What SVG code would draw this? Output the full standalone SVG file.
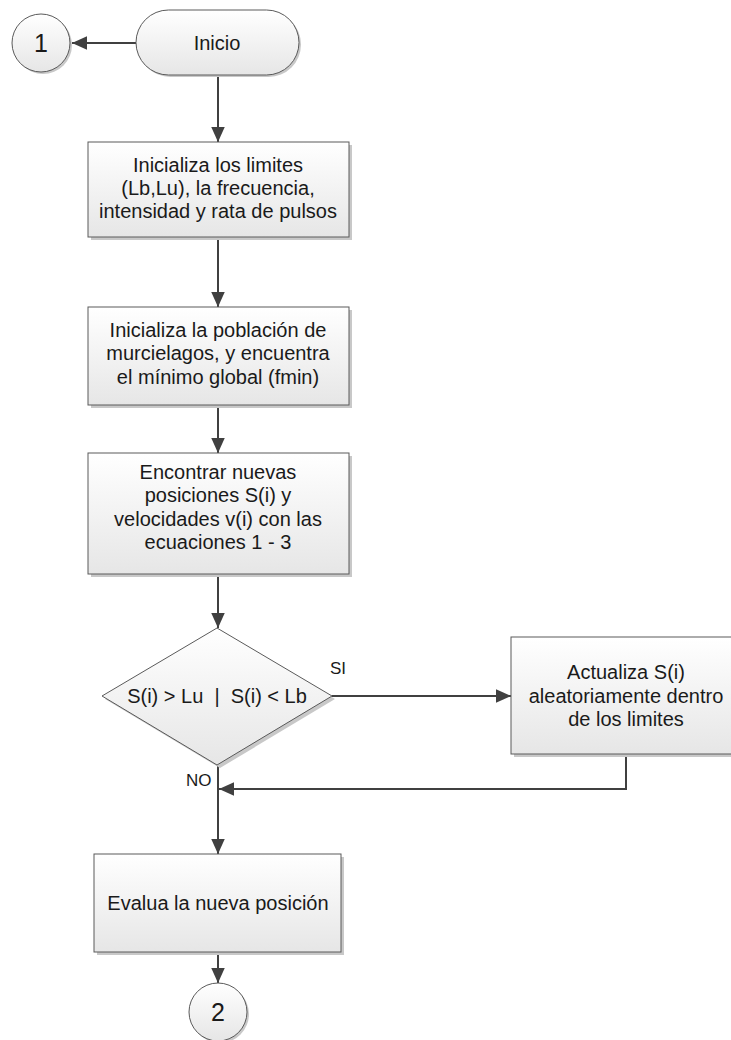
<svg xmlns="http://www.w3.org/2000/svg" width="731" height="1040" viewBox="0 0 731 1040">
<style>
.shape{fill:url(#g);stroke:#5a5a5a;stroke-width:1}
.shadow{fill:#c8c8c8;stroke:none}
.t{font-family:"Liberation Sans",Arial,sans-serif;font-size:20px;fill:#1a1a1a;text-anchor:middle}
.big{font-size:25px}
.conn{fill:none;stroke:#404040;stroke-width:2}
.lbl{font-family:"Liberation Sans",Arial,sans-serif;font-size:17px;fill:#1a1a1a}
</style>
<defs>
<linearGradient id="g" x1="0" y1="0" x2="0" y2="1">
<stop offset="0" stop-color="#ffffff"/>
<stop offset="1" stop-color="#e6e6e6"/>
</linearGradient>
<marker id="arb" viewBox="0 0 10 10" refX="10" refY="5" markerWidth="15" markerHeight="15" markerUnits="userSpaceOnUse" orient="auto">
<path d="M0,0.5 L10,5 L0,9.5 z" fill="#404040"/>
</marker>
</defs>

<g id="connectors">
<path class="conn" d="M136,43 L72,43" marker-end="url(#arb)"/>
<path class="conn" d="M218,75 L218,142" marker-end="url(#arb)"/>
<path class="conn" d="M218,237 L218,307" marker-end="url(#arb)"/>
<path class="conn" d="M218,405 L218,453" marker-end="url(#arb)"/>
<path class="conn" d="M218,574 L218,628" marker-end="url(#arb)"/>
<path class="conn" d="M332,696 L511,696" marker-end="url(#arb)"/>
<path class="conn" d="M626,754 L626,789 L219,789" marker-end="url(#arb)"/>
<path class="conn" d="M218,765 L218,854" marker-end="url(#arb)"/>
<path class="conn" d="M218,952 L218,983" marker-end="url(#arb)"/>
<text class="lbl" x="330" y="674">SI</text>
<text class="lbl" x="186" y="786">NO</text>
</g>

<g id="c1">
<circle class="shadow" cx="43" cy="45" r="29"/>
<circle class="shape" cx="41" cy="43" r="29"/>
<text class="t big" x="41" y="52">1</text>
</g>

<g id="inicio">
<rect class="shadow" x="138" y="12" width="163" height="65" rx="32.5"/>
<rect class="shape" x="136" y="10" width="163" height="65" rx="32.5"/>
<text class="t" x="217" y="50">Inicio</text>
</g>

<g id="b1">
<rect class="shadow" x="91" y="145" width="261" height="95"/>
<rect class="shape" x="88" y="142" width="261" height="95"/>
<text class="t" x="218" y="172">Inicializa los limites</text>
<text class="t" x="218" y="195">(Lb,Lu), la frecuencia,</text>
<text class="t" x="218" y="218">intensidad y rata de pulsos</text>
</g>

<g id="b2">
<rect class="shadow" x="91" y="310" width="261" height="98"/>
<rect class="shape" x="88" y="307" width="261" height="98"/>
<text class="t" x="218" y="337">Inicializa la población de</text>
<text class="t" x="218" y="360">murcielagos, y encuentra</text>
<text class="t" x="218" y="384">el mínimo global (fmin)</text>
</g>

<g id="b3">
<rect class="shadow" x="91" y="456" width="261" height="121"/>
<rect class="shape" x="88" y="453" width="261" height="121"/>
<text class="t" x="218" y="479">Encontrar nuevas</text>
<text class="t" x="218" y="502">posiciones S(i)  y</text>
<text class="t" x="218" y="526">velocidades v(i) con las</text>
<text class="t" x="218" y="549">ecuaciones 1 - 3</text>
</g>

<g id="d1">
<polygon class="shadow" points="220,631 335,699 220,768 105,699"/>
<polygon class="shape" points="217,628 332,696 217,765 102,696"/>
<text class="t" x="217" y="703" xml:space="preserve">S(i) &gt; Lu  |  S(i) &lt; Lb</text>
</g>

<g id="b4">
<rect class="shadow" x="514" y="640" width="228" height="117"/>
<rect class="shape" x="511" y="637" width="228" height="117"/>
<text class="t" x="626" y="679">Actualiza S(i)</text>
<text class="t" x="626" y="703">aleatoriamente dentro</text>
<text class="t" x="626" y="726">de los limites</text>
</g>

<g id="b5">
<rect class="shadow" x="97" y="857" width="247" height="98"/>
<rect class="shape" x="94" y="854" width="247" height="98"/>
<text class="t" x="218" y="910">Evalua la nueva posición</text>
</g>

<g id="c2">
<circle class="shadow" cx="220" cy="1014" r="29"/>
<circle class="shape" cx="218" cy="1012" r="29"/>
<text class="t big" x="218" y="1021">2</text>
</g>
</svg>
